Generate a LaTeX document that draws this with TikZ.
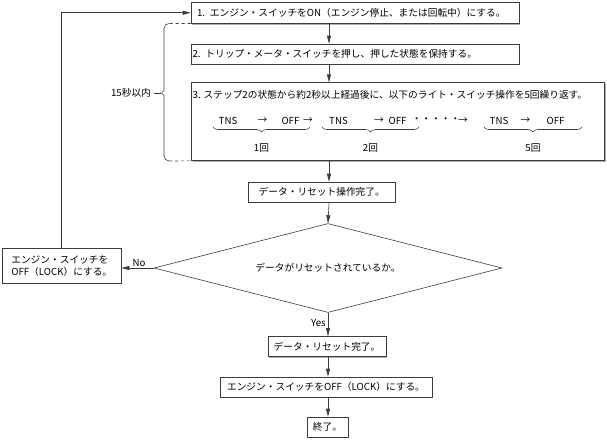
\documentclass[tikz,border=0pt]{standalone}
\usepackage{fontspec}
\setmainfont{Noto Sans CJK JP}
\definecolor{LineColor}{RGB}{60,60,60}
\definecolor{ShadeColor}{RGB}{175,175,175}
\usepackage{tikz}
\usetikzlibrary{arrows.meta, shapes.geometric, shadows, decorations.pathreplacing}
\tikzstyle{flow} = [LineColor, line width=0.6pt, -{Triangle[length=8pt,width=4pt]}]
\tikzstyle{stepbox} = [draw=LineColor, line width=0.6pt, fill=white, inner sep=0pt, minimum height=20pt, drop shadow={shadow xshift=1.3pt, shadow yshift=-1.3pt, fill=ShadeColor, opacity=1}]
\tikzstyle{brc} = [LineColor, line width=0.6pt, decorate, decoration={brace, mirror, amplitude=5pt}]
\tikzstyle{bracket} = [LineColor, line width=0.6pt]
\begin{document}
\begin{tikzpicture}[x=1pt, y=-1pt, font=\fontsize{9.7}{12.3}\selectfont]
                \useasboundingbox (0,0) rectangle (607,439);
                \coordinate (ax) at (329,0);

                % steps 1-3
                \node[stepbox, minimum width=328pt, minimum height=21pt, text width=316pt, inner xsep=6pt, align=left] (b1) at (355,12.75) {1. エンジン・スイッチをON（エンジン停止、または回転中）にする。};
                \node[stepbox, minimum width=328pt, text width=325pt, inner xsep=1.5pt, align=left] (b2) at (355,54) {2. トリップ・メータ・スイッチを押し、押した状態を保持する。};
                \node[stepbox, minimum width=413pt, minimum height=78pt, anchor=north west] (b3) at (191,82.3) {};
                \node[anchor=west, inner sep=1pt] (t3) at (191.5,95) {3. ステップ2の状態から約2秒以上経過後に、以下のライト・スイッチ操作を5回繰り返す。};

                \node (s1) at (228,120.5) {TNS};
                \node (a1) at (262.5,120.5) {→};
                \node (f1) at (290.5,120.5) {OFF};
                \node (a2) at (308,120.5) {→};
                \node (s2) at (338.5,120.5) {TNS};
                \node (a3) at (379,120.5) {→};
                \node (f2) at (397.5,120.5) {OFF};
                \node (dots) at (436,120.5) {・・・・・};
                \node (a4) at (463,120.5) {→};
                \node (s3) at (499,120.5) {TNS};
                \node (a5) at (525.5,120.5) {→};
                \node (f3) at (555.5,120.5) {OFF};

                \draw[brc] (213,127) -- (310,127);
                \draw[brc] (322,127) -- (419,127);
                \draw[brc] (484,127) -- (582,127);
                \node (n1) at (261.5,148) {1回};
                \node (n2) at (370.5,148) {2回};
                \node (n5) at (533,148) {5回};

                % 15 s bracket
                \draw[bracket, dashed] (b1.south west) -- (169,23.5);
                \draw[bracket, rounded corners=5pt] (169,23.5) -- (164,23.5) -- (164,60) [sharp corners] -- (164,90.5) -- (161.5,93) -- (164,95.5) -- (164,130) [rounded corners=5pt] -- (164,161) -- (169,161);
                \draw[bracket, dashed] (169,161) -- (b3.south west);
                \coordinate (tip) at (160.5,93);
                \node (lim) at (131,93) {15秒以内};
                \draw[bracket] (lim.east) -- (tip);

                % check
                \node[stepbox, minimum width=146.5pt] (b4) at (321.75,192) {データ・リセット操作完了。};
                \node[draw=LineColor, line width=0.6pt, diamond, aspect=4, inner sep=0pt, minimum width=348pt, minimum height=89pt] (dia) at (328,268) {データがリセットされているか。};
                \node[stepbox, minimum width=118.5pt, minimum height=34.5pt, align=left] (nb) at (61.75,265.75) {エンジン・スイッチを\\OFF（LOCK）にする。};

                % end
                \node[stepbox, minimum width=118pt] (b5) at (327,346.5) {データ・リセット完了。};
                \node[stepbox, minimum width=212pt] (b6) at (326,387) {エンジン・スイッチをOFF（LOCK）にする。};
                \node[stepbox, minimum width=41pt] (b7) at (327.5,427) {終了。};

                \draw[flow] (b1.south -| ax) -- (b2.north -| ax);
                \draw[flow] (b2.south -| ax) -- (b3.north -| ax);
                \draw[flow] (b3.south -| ax) -- (b4.north -| ax);
                \draw[flow] (b4.south -| ax) -- (dia.north);
                \draw[flow] (dia.south) -- node[left, pos=0.43, inner sep=2pt, text=black] {Yes} (b5.north -| dia.south);
                \draw[flow] (b5.south -| dia.south) -- (b6.north -| dia.south);
                \draw[flow] (b6.south -| dia.south) -- (b7.north -| dia.south);
                \draw[flow] (dia.west) -- node[above, pos=0.45, inner sep=1pt, text=black] {No} (dia.west -| nb.east);
                \draw[flow] (nb.north) |- (b1.west);
            \end{tikzpicture}
\end{document}
